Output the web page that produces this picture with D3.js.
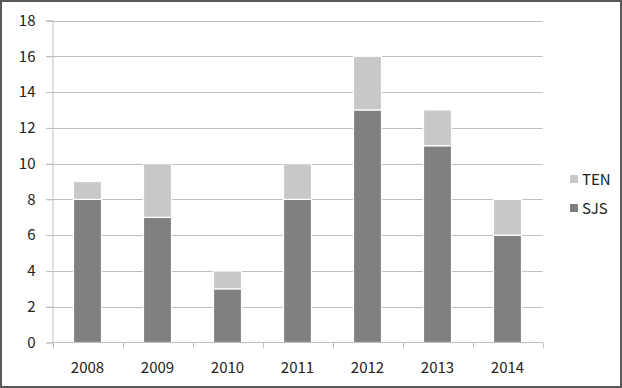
<!DOCTYPE html>
<html>
<head>
<meta charset="utf-8">
<script src="https://cdn.jsdelivr.net/npm/d3@7"></script>
<style>
  body { margin: 0; background: #fff; }
  svg { display: block; font-family: "Noto Sans CJK KR", "Open Sans", sans-serif; }
</style>
</head>
<body>
<svg></svg>
<script>
const years = ["2008", "2009", "2010", "2011", "2012", "2013", "2014"];
const sjs = [8, 7, 3, 8, 13, 11, 6];
const ten = [1, 3, 1, 2, 3, 2, 2];
const seriesNames = ["SJS", "TEN"];
const yTicks = [0, 2, 4, 6, 8, 10, 12, 14, 16, 18];

const width = 622, height = 388;
const colors = { SJS: "#808080", TEN: "#c8c8c8" };

const svg = d3.select("svg")
  .attr("width", width)
  .attr("height", height);

// outer frame
svg.append("rect")
  .attr("x", 1).attr("y", 1)
  .attr("width", width - 2).attr("height", height - 2)
  .attr("fill", "#fff")
  .attr("stroke", "#595959")
  .attr("stroke-width", 2);

const x = d3.scaleBand().domain(years).range([52.5, 542.5]).paddingInner(0.6).paddingOuter(0.3);
const y = d3.scaleLinear().domain([0, 18]).range([342.5, 20.5]);

// gridlines
svg.append("g")
  .selectAll("line")
  .data(yTicks.filter(d => d > 0))
  .enter().append("line")
  .attr("x1", 46).attr("x2", 542.5)
  .attr("y1", d => Math.round(y(d)) + 0.5)
  .attr("y2", d => Math.round(y(d)) + 0.5)
  .attr("stroke", "#bfbfbf");

const table = years.map((yr, i) => ({ year: yr, SJS: sjs[i], TEN: ten[i] }));
const stacked = d3.stack().keys(seriesNames)(table);

svg.append("g")
  .selectAll("g")
  .data(stacked)
  .enter().append("g")
  .attr("fill", d => colors[d.key])
  .selectAll("rect")
  .data(d => d)
  .enter().append("rect")
  .attr("x", d => x(d.data.year))
  .attr("y", d => y(d[1]))
  .attr("width", x.bandwidth())
  .attr("height", d => y(d[0]) - y(d[1]))
  .attr("stroke", "#fff")
  .attr("stroke-width", 1.2);

// y axis
const yAxis = svg.append("g")
  .attr("transform", "translate(52.5,0)")
  .call(d3.axisLeft(y).tickValues(yTicks).tickSize(6).tickPadding(11));
yAxis.select(".domain").attr("stroke", "#bfbfbf");
yAxis.selectAll(".tick line").attr("stroke", "#bfbfbf");
yAxis.selectAll("text").attr("fill", "#222").style("font-size", "15px")
  .style("font-family", "'Noto Sans CJK KR', 'Open Sans', sans-serif");

// x axis
const xTickScale = d3.scalePoint().domain(d3.range(years.length + 1)).range([52.5, 542.5]);
const xAxis = svg.append("g").attr("transform", "translate(0,342.5)");
xAxis.append("line")
  .attr("x1", 52.5).attr("x2", 542.5)
  .attr("stroke", "#bfbfbf");
xAxis.selectAll("line.tk")
  .data(xTickScale.domain())
  .enter().append("line")
  .attr("class", "tk")
  .attr("x1", d => Math.round(xTickScale(d)) + 0.5)
  .attr("x2", d => Math.round(xTickScale(d)) + 0.5)
  .attr("y1", 0).attr("y2", 6)
  .attr("stroke", "#bfbfbf");
xAxis.selectAll("text")
  .data(years)
  .enter().append("text")
  .attr("x", d => x(d) + x.bandwidth() / 2)
  .attr("y", 30)
  .attr("text-anchor", "middle")
  .attr("fill", "#222")
  .style("font-size", "15px")
  .text(d => d);

// legend
const legend = svg.append("g");
["TEN", "SJS"].forEach((k, i) => {
  legend.append("rect")
    .attr("x", 570).attr("y", 175 + i * 29)
    .attr("width", 8).attr("height", 8)
    .attr("fill", colors[k]);
  legend.append("text")
    .attr("x", 582).attr("y", 185 + i * 29)
    .attr("fill", "#222")
    .style("font-size", "15px")
    .text(k);
});
</script>
</body>
</html>
